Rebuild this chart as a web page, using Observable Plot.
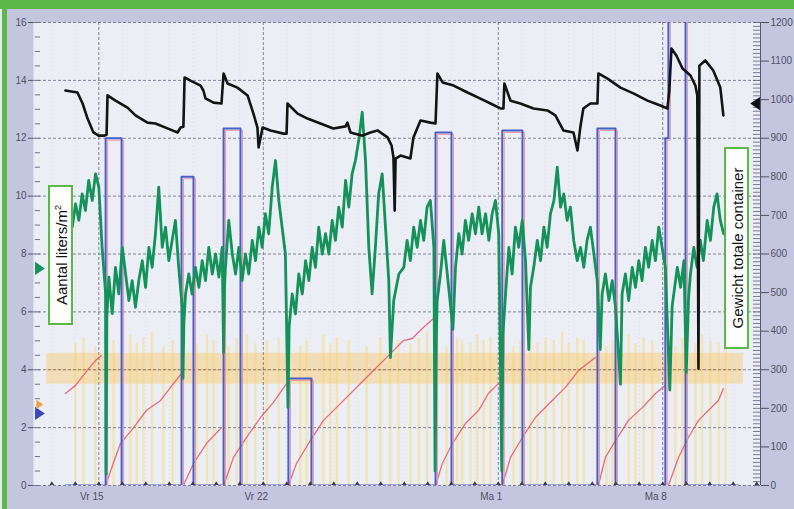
<!DOCTYPE html>
<html><head><meta charset="utf-8">
<script src="https://cdn.jsdelivr.net/npm/d3@7"></script>
<script src="https://cdn.jsdelivr.net/npm/@observablehq/plot@0.6"></script>
<style>
html,body{margin:0;padding:0;}
body{width:794px;height:509px;overflow:hidden;position:relative;background:#c4c6df;font-family:"Liberation Sans",Arial,sans-serif;}
#chart{position:absolute;left:0;top:0;}
.band{position:absolute;left:0;top:0;width:794px;height:9px;background:#5cb947;}
.stripe{position:absolute;left:2px;top:0;width:5px;height:509px;background:#5cb947;}
.edge{position:absolute;left:0;top:0;width:2px;height:509px;background:#e8ecef;}
.lbl{position:absolute;background:#fff;border:2px solid #5cb947;box-sizing:border-box;}
.lbl span{position:absolute;left:50%;top:50%;transform:translate(-50%,-50%) rotate(-90deg);white-space:nowrap;font-size:15px;color:#111;line-height:1;}
.lbl sup{font-size:9px;vertical-align:6px;}
</style></head>
<body>
<div id="chart"></div>
<div class="edge"></div>
<div class="stripe"></div>
<div class="band"></div>
<div class="lbl" style="left:48px;top:185px;width:25px;height:140px;"><span>Aantal liters/m<sup>2</sup></span></div>
<div class="lbl" style="left:724px;top:147px;width:25px;height:202px;"><span>Gewicht totale container</span></div>
<script>
// x values are days relative to "Vr 15" (day 0); y values in left-axis units (0-16)
const xStart = -2.78, xEnd = 28.16;
const xTickDays = [0, 7, 17, 24];
const xTickLabels = ["Vr 15", "Vr 22", "Ma 1", "Ma 8"];
const leftTicks = [0, 2, 4, 6, 8, 10, 12, 14, 16];
const rightTicks = [0, 100, 200, 300, 400, 500, 600, 700, 800, 900, 1000, 1100, 1200];
const rightPerLeft = 75; // right axis units per left axis unit

// Black: container weight (plotted on left units)
const blackT = [-1.42,-0.91,-0.69,-0.48,-0.23,-0.01,0.24,0.33,0.37,0.71,1.22,1.56,2.07,2.41,2.92,3.35,3.48,3.60,3.65,3.90,4.33,4.45,4.54,4.88,5.22,5.31,5.48,5.90,6.33,6.58,6.75,6.80,6.97,7.31,7.86,7.99,8.03,8.46,8.88,9.43,9.98,10.50,10.58,10.71,11.22,11.56,11.86,12.29,12.46,12.54,12.59,12.63,12.84,13.26,13.39,13.69,14.11,14.33,14.41,14.63,15.10,15.69,16.24,16.67,17.09,17.22,17.26,17.52,17.94,18.50,19.09,19.43,19.77,20.20,20.37,20.49,20.62,20.92,21.22,21.26,21.65,22.20,22.75,23.35,23.90,24.20,24.28,24.37,24.58,24.84,25.18,25.39,25.47,25.52,25.56,25.81,26.15,26.45,26.58];
const blackV = [13.65,13.58,13.20,12.68,12.20,12.09,12.09,12.12,13.48,13.30,13.06,12.79,12.54,12.51,12.34,12.20,12.37,12.40,14.10,13.99,13.82,13.65,13.38,13.23,13.20,14.24,13.89,13.75,13.48,12.85,12.37,11.68,12.37,12.27,12.16,12.16,13.20,12.85,12.68,12.51,12.34,12.41,12.54,12.20,12.09,12.20,12.27,12.03,11.75,11.33,9.50,11.30,11.40,11.30,12.03,12.61,12.54,12.51,14.24,13.93,13.82,13.58,13.37,13.20,13.03,13.03,13.89,13.30,13.20,13.03,12.96,12.79,12.27,12.20,11.58,12.37,13.03,13.20,13.20,14.24,14.06,13.75,13.55,13.30,13.13,13.03,13.65,15.10,14.86,14.41,14.17,13.82,13.48,4.04,14.51,14.69,14.34,13.75,12.79];

// Green: noisy sensor series
const greenT = [-1.42,-1.28,-1.13,-0.99,-0.85,-0.71,-0.57,-0.43,-0.28,-0.14,0.00,0.14,0.29,0.31,0.34,0.43,0.57,0.71,0.85,1.00,1.14,1.28,1.42,1.56,1.70,1.85,1.99,2.13,2.27,2.41,2.55,2.70,2.84,2.98,3.12,3.26,3.40,3.55,3.58,3.62,3.69,3.83,3.97,4.11,4.26,4.40,4.54,4.68,4.83,4.97,5.11,5.25,5.31,5.35,5.39,5.53,5.68,5.82,5.96,6.10,6.24,6.38,6.53,6.67,6.81,6.95,7.09,7.23,7.38,7.52,7.66,7.80,7.94,8.05,8.10,8.23,8.37,8.51,8.66,8.80,8.94,9.08,9.22,9.36,9.51,9.65,9.79,9.93,10.07,10.21,10.36,10.50,10.64,10.78,10.92,11.06,11.21,11.35,11.49,11.63,11.77,11.91,12.06,12.20,12.34,12.41,12.55,12.77,12.98,13.12,13.26,13.40,13.55,13.69,13.83,13.97,14.11,14.26,14.31,14.36,14.40,14.54,14.68,14.83,15.07,15.18,15.32,15.46,15.60,15.74,15.89,16.03,16.17,16.31,16.46,16.60,16.74,16.88,17.02,17.15,17.20,17.31,17.45,17.59,17.73,17.87,18.02,18.16,18.30,18.37,18.51,18.66,18.80,18.94,19.08,19.22,19.37,19.51,19.65,19.79,19.93,20.07,20.21,20.36,20.50,20.64,20.78,20.92,21.07,21.21,21.34,21.42,21.56,21.71,21.85,21.99,22.20,22.27,22.41,22.55,22.70,22.84,22.98,23.12,23.26,23.40,23.55,23.69,23.83,23.97,24.11,24.30,24.40,24.62,24.76,24.90,25.00,25.10,25.18,25.32,25.46,25.60,25.73,25.89,26.03,26.17,26.31,26.45,26.59];
const greenV = [8.70,9.39,8.93,9.73,9.16,10.08,9.50,10.54,9.85,10.77,10.31,8.23,6.62,0.40,5.80,7.20,5.94,7.54,6.62,8.23,7.31,6.39,7.08,6.16,7.08,7.77,6.85,8.23,7.54,8.70,10.31,8.23,8.93,7.77,8.47,9.16,7.54,6.16,3.70,5.60,6.62,7.31,6.62,7.54,6.85,7.77,7.08,8.23,7.31,8.00,7.20,8.23,4.60,6.90,7.54,9.16,8.00,7.31,8.23,7.08,8.00,7.31,8.47,7.77,8.93,8.23,9.39,8.70,10.31,11.23,9.85,8.93,8.00,2.70,5.50,6.62,5.93,7.31,6.62,7.77,7.08,8.23,7.54,8.93,8.00,8.70,8.00,9.16,8.47,9.62,8.93,10.54,9.62,10.77,11.23,11.92,12.90,11.23,8.23,6.62,8.23,10.08,10.77,8.93,7.08,4.42,6.39,7.31,7.54,8.47,7.77,8.93,8.23,9.16,8.47,9.62,9.85,8.23,0.50,5.00,6.39,7.31,8.47,7.31,5.40,7.54,8.70,8.00,9.16,8.47,9.39,8.70,9.62,8.70,9.39,8.47,9.39,9.85,8.70,0.50,5.25,6.62,8.23,7.31,8.93,8.23,9.16,7.77,4.70,6.85,7.54,8.47,7.77,8.93,8.23,9.39,9.85,11.00,9.62,10.08,9.16,9.62,8.47,7.77,8.23,7.54,8.47,8.93,8.00,7.08,4.70,6.62,7.31,6.39,7.08,6.16,3.50,6.62,7.31,6.39,7.54,6.85,7.77,7.08,8.23,7.54,8.47,7.77,8.93,8.23,7.54,3.30,6.20,7.54,6.85,7.77,3.90,6.50,7.31,8.23,7.54,8.47,7.77,9.16,8.47,9.62,10.08,9.16,8.70];

// Blue: drain pulses (value holds until next time)
const pulseT = [-1.42,0.29,0.97,3.52,4.03,5.31,6.03,8.07,9.05,14.33,15.01,17.17,18.03,21.22,21.99,24.11,24.24,24.97,27.20];
const pulseV = [0,12.00,0,10.67,0,12.34,0,3.70,0,12.20,0,12.27,0,12.34,0,12.00,16.60,0,0];

// Red: cumulative amount, resets after each drain pulse (null = break)
const redT = [-1.42,-0.99,-0.57,-0.14,0.11,null,0.29,0.50,0.92,1.48,2.03,2.63,3.05,3.52,null,3.60,4.03,4.58,5.22,null,5.31,5.73,6.29,6.88,7.43,7.99,null,8.07,8.41,9.00,9.56,10.28,10.84,11.56,12.24,12.96,13.34,13.80,14.24,null,14.33,14.62,15.05,15.60,16.16,16.58,17.00,null,17.17,17.52,18.03,18.58,19.30,19.86,20.41,21.13,null,21.26,21.56,21.99,22.54,23.14,23.69,24.11,null,24.24,24.67,25.09,25.52,25.94,26.37,26.58];
const redV = [3.18,3.46,3.90,4.32,4.49,null,0.00,0.50,1.45,2.00,2.60,2.94,3.39,3.87,null,0.00,0.76,1.45,2.00,null,0.00,0.97,1.66,2.35,2.87,3.52,null,0.00,0.76,1.55,2.25,2.83,3.28,3.87,4.42,5.01,5.08,5.45,5.77,null,0.00,0.76,1.45,2.14,2.59,3.18,3.52,null,0.00,0.97,1.66,2.35,2.94,3.39,3.97,4.42,null,0.00,0.97,1.55,2.25,2.70,3.18,3.46,null,0.00,0.97,1.66,2.25,2.59,2.94,3.35];

// Yellow: irrigation bars
const yellowT = [-1.00,-0.65,-0.15,0.63,1.34,1.62,1.90,2.26,2.75,3.14,4.16,4.60,4.88,5.52,5.87,6.30,6.66,7.15,7.65,8.57,8.84,9.56,9.85,10.13,10.63,11.40,11.97,12.40,12.75,13.26,13.62,13.97,14.80,15.25,15.46,15.82,16.10,16.38,16.67,17.65,17.95,18.37,18.66,19.01,19.36,19.72,20.00,20.36,20.64,21.60,21.86,22.55,22.84,23.19,23.55,24.54,24.84,25.39,25.67,26.03,26.38,26.67];
const yellowH = [4.9,5.1,4.8,5.0,5.2,4.9,5.1,5.3,4.8,5.0,4.9,5.2,5.0,4.8,5.1,5.2,4.9,5.0,5.1,4.8,5.0,5.2,4.9,5.1,5.0,4.8,5.1,5.2,5.0,4.9,5.1,5.3,4.8,5.1,5.0,4.9,5.2,5.0,5.1,4.8,5.0,5.2,4.9,5.1,5.0,5.3,4.9,5.1,5.0,4.8,5.0,5.2,4.9,5.1,5.0,4.8,5.1,4.9,5.2,5.0,4.9,5.0];

// Orange target band
const bandSpan = [-2.22, 27.43];
const bandRange = [3.50, 4.57];
const bandCenter = [4.0];

// Scale markers at the axes
const leftMarkerV = [7.5, 2.8, 2.49];
const leftMarkerC = ["#15935a", "#f0a040", "#3a48b8"];
const leftMarkerR = [5, 3.5, 5];
const rightMarkerV = [13.2];

const dayTicks = d3.range(-2, 29);
const green = greenT.map((t, i) => ({t, v: greenV[i]}));
const black = blackT.map((t, i) => ({t, v: blackV[i]}));
const pulse = pulseT.map((t, i) => ({t, v: pulseV[i]}));
const red = redT.map((t, i) => ({t, v: redV[i]}));
const yellow = yellowT.map((t, i) => ({t, h: yellowH[i]}));
const band = [{x1: bandSpan[0], x2: bandSpan[1], y1: bandRange[0], y2: bandRange[1]}];
const leftMarkers = leftMarkerV.map((v, i) => ({v, c: leftMarkerC[i], r: leftMarkerR[i]}));

const triRight = {draw(ctx, size){const s=Math.sqrt(size);ctx.moveTo(-0.5*s,-0.75*s);ctx.lineTo(0.6*s,0);ctx.lineTo(-0.5*s,0.75*s);ctx.closePath();}};
const triLeft = {draw(ctx, size){const s=Math.sqrt(size);ctx.moveTo(0.5*s,-0.75*s);ctx.lineTo(-0.6*s,0);ctx.lineTo(0.5*s,0.75*s);ctx.closePath();}};
const triUp = {draw(ctx, size){const s=Math.sqrt(size);ctx.moveTo(-0.6*s,0.4*s);ctx.lineTo(0,-0.6*s);ctx.lineTo(0.6*s,0.4*s);ctx.closePath();}};

const chart = Plot.plot({
  width: 794, height: 509,
  marginLeft: 33, marginRight: 34, marginTop: 22, marginBottom: 24,
  x: {domain: [xStart, xEnd], axis: null},
  y: {domain: [0, 16], axis: null},
  r: {type: "identity"},
  color: {type: "identity"},
  style: {background: "transparent", color: "#505066", fontFamily: "'Liberation Sans', Arial, sans-serif", fontSize: "10px", overflow: "visible"},
  marks: [
    Plot.frame({fill: "#eceef6", stroke: null}),
    Plot.ruleX(dayTicks, {stroke: "#d9a8b8", strokeDasharray: "1,3", strokeOpacity: 0.35}),
    Plot.ruleX(yellow, {x: "t", y1: 0, y2: "h", stroke: "#f6dc78", strokeWidth: 2.5, strokeOpacity: 0.5}),
    Plot.rect(band, {x1: "x1", x2: "x2", y1: "y1", y2: "y2", fill: "#f9c862", fillOpacity: 0.42}),
    Plot.ruleY(bandCenter, {x1: bandSpan[0], x2: bandSpan[1], stroke: "#eeae52", strokeOpacity: 0.6}),
    Plot.ruleY(leftTicks, {stroke: "#62627a", strokeDasharray: "3,2", strokeOpacity: 0.75}),
    Plot.ruleX(xTickDays, {stroke: "#62627a", strokeDasharray: "3,2", strokeOpacity: 0.75}),
    Plot.ruleY(d3.range(0, 16.01, 0.5), {x1: xStart + 0.08, x2: xStart + 0.3, stroke: "#70708a"}),
    Plot.line(red, {x: "t", y: "v", stroke: "#e5566a", strokeWidth: 1.3, strokeOpacity: 0.85}),
    Plot.line(pulse, {x: "t", y: "v", curve: "step-after", stroke: "#ee98a6", strokeWidth: 1, dx: 2, dy: 2, clip: true}),
    Plot.line(pulse, {x: "t", y: "v", curve: "step-after", stroke: "#4a5ec4", strokeWidth: 2, clip: true}),
    Plot.line(green, {x: "t", y: "v", stroke: "#15925a", strokeWidth: 2.8, strokeLinejoin: "round"}),
    Plot.line(black, {x: "t", y: "v", stroke: "#141414", strokeWidth: 2.6}),
    Plot.dot(dayTicks, {x: d => d, y: 0, symbol: triUp, r: 2.2, fill: "#3a3a50", stroke: null, dy: -2}),
    Plot.ruleX([xEnd], {stroke: "#55557a"}),
    Plot.ruleY(d3.range(0, 1201, 10).map(v => v / rightPerLeft), {x1: xEnd - 0.3, x2: xEnd, stroke: "#5a5a80", strokeWidth: 0.8}),
    Plot.axisY(leftTicks, {anchor: "left", tickSize: 5, tickPadding: 2, tickFormat: d => String(d)}),
    Plot.axisY(rightTicks.map(v => v / rightPerLeft), {anchor: "right", tickSize: 8, tickPadding: 2, tickFormat: d => String(Math.round(d * rightPerLeft))}),
    Plot.axisX(xTickDays, {anchor: "bottom", tickSize: 0, tickPadding: 7, dx: -7, tickFormat: d => xTickLabels[xTickDays.indexOf(d)]}),
    Plot.dot(leftMarkers, {x: () => xStart, y: "v", fill: "c", r: "r", symbol: triRight, dx: 6, stroke: null}),
    Plot.dot(rightMarkerV, {x: () => xEnd, y: d => d, fill: "#111", symbol: triLeft, r: 5, dx: -5, stroke: null})
  ]
});
document.getElementById("chart").appendChild(chart);
</script>
</body></html>
